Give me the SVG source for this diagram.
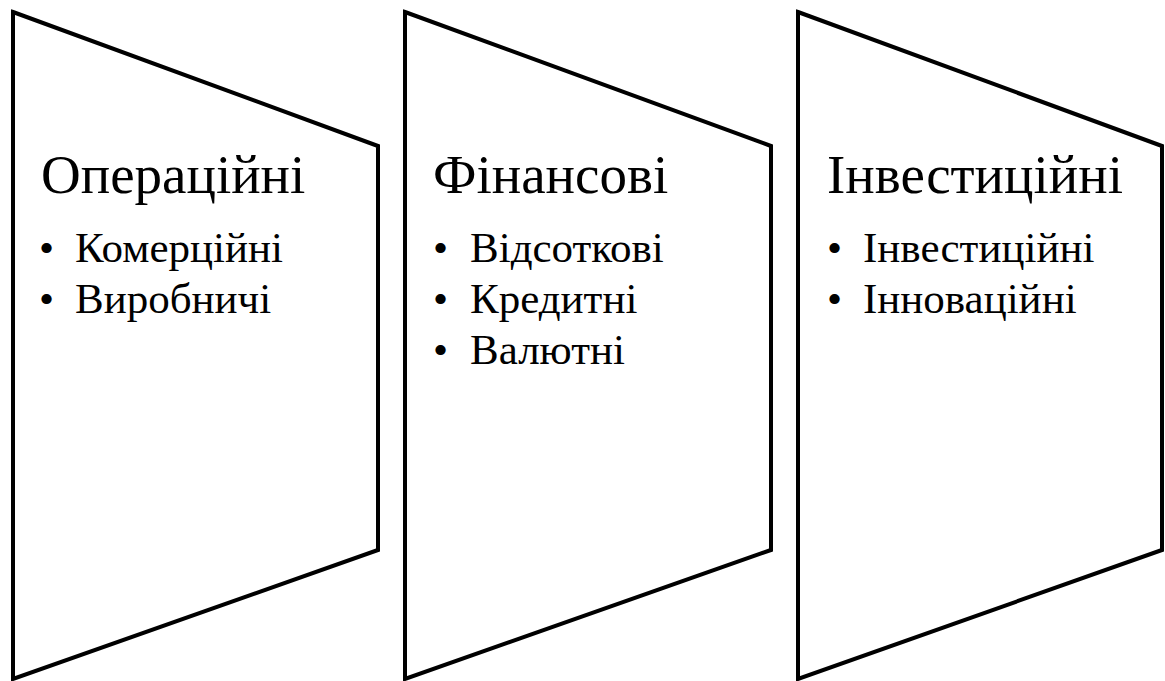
<svg xmlns="http://www.w3.org/2000/svg" width="1165" height="681" viewBox="0 0 1165 681">
<style>
.shape{fill:#fff;stroke:#000;stroke-width:4;stroke-linejoin:miter}
.title{font-size:55px}
.item{font-size:43px}
</style>
<rect width="1165" height="681" fill="#fff"/>
<g id="node-operating" font-family="'Liberation Serif', 'Times New Roman', serif" fill="#000">
<polygon class="shape" points="13,12 378,146 378,550 13,679"/>
<text class="title" x="41" y="193">Операційні</text>
<text class="item" x="39" y="262">•</text>
<text class="item" x="75" y="262">Комерційні</text>
<text class="item" x="39" y="313">•</text>
<text class="item" x="75" y="313">Виробничі</text>
</g>
<g id="node-financial" font-family="'Liberation Serif', 'Times New Roman', serif" fill="#000">
<polygon class="shape" points="405,12 771,146 771,550 405,679"/>
<text class="title" x="433" y="193">Фінансові</text>
<text class="item" x="433" y="262">•</text>
<text class="item" x="470" y="262">Відсоткові</text>
<text class="item" x="433" y="313">•</text>
<text class="item" x="470" y="313">Кредитні</text>
<text class="item" x="433" y="364">•</text>
<text class="item" x="470" y="364">Валютні</text>
</g>
<g id="node-investment" font-family="'Liberation Serif', 'Times New Roman', serif" fill="#000">
<polygon class="shape" points="798,12 1162,146 1162,550 798,679"/>
<text class="title" x="827" y="193">Інвестиційні</text>
<text class="item" x="827" y="262">•</text>
<text class="item" x="863" y="262">Інвестиційні</text>
<text class="item" x="827" y="313">•</text>
<text class="item" x="863" y="313">Інноваційні</text>
</g>
<g id="connectors"></g>
</svg>
